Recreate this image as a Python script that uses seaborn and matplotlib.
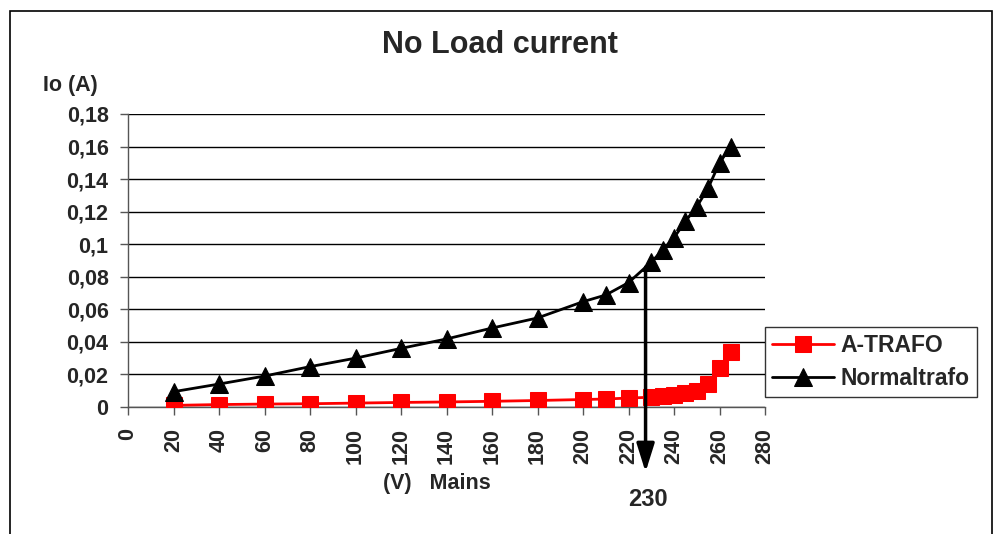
import matplotlib
matplotlib.use('Agg')
import matplotlib.pyplot as plt
import seaborn as sns
import pandas as pd
from matplotlib.ticker import FuncFormatter, MultipleLocator
from matplotlib.patches import Rectangle

# mains voltage (V) and no-load current (A)
volts = [20, 40, 60, 80, 100, 120, 140, 160, 180, 200, 210, 220,
         230, 235, 240, 245, 250, 255, 260, 265]
a_trafo = [0.0010, 0.0015, 0.0018, 0.0020, 0.0024, 0.0028, 0.0031, 0.0035,
           0.0040, 0.0046, 0.0049, 0.0055, 0.0060, 0.0066, 0.0074, 0.0084,
           0.0100, 0.0140, 0.0240, 0.0340]
normal_trafo = [0.0094, 0.0141, 0.0190, 0.0248, 0.0300, 0.0360, 0.0418, 0.0485,
                0.0547, 0.0647, 0.0688, 0.0764, 0.0890, 0.0964, 0.1040, 0.1140,
                0.1230, 0.1345, 0.1500, 0.1600]
series_names = ["A-TRAFO", "Normaltrafo"]
marked_volt = 230
arrow_x = 227.5
arrow_top = 0.086

df = pd.DataFrame({"V": volts, "A-TRAFO": a_trafo, "Normaltrafo": normal_trafo})

sns.set_theme(style="white")
plt.rcParams['font.family'] = ['Liberation Sans', 'DejaVu Sans']
plt.rcParams['font.weight'] = 'bold'

fig = plt.figure(figsize=(9.99, 5.34), dpi=100)
ax = fig.add_axes([128 / 999, 1 - 407 / 534, 637 / 999, 293 / 534])

sns.lineplot(data=df, x="V", y="A-TRAFO", ax=ax, color="#ff0000", lw=2,
             marker="s", markersize=12, markeredgecolor="#ff0000",
             label=series_names[0], zorder=3)
sns.lineplot(data=df, x="V", y="Normaltrafo", ax=ax, color="black", lw=2,
             marker="^", markersize=13.5, markeredgecolor="black",
             label=series_names[1], zorder=4)

ax.set_xlim(0, 280)
ax.set_ylim(0, 0.18)
ax.xaxis.set_major_locator(MultipleLocator(20))
ax.yaxis.set_major_locator(MultipleLocator(0.02))
ax.yaxis.set_major_formatter(FuncFormatter(lambda v, p: f"{round(v, 2):g}".replace(".", ",")))
ax.grid(axis="y", color="black", lw=1)
ax.set_axisbelow(True)
for s in ["top", "right"]:
    ax.spines[s].set_visible(False)
for s in ["left", "bottom"]:
    ax.spines[s].set_color("#555555")
    ax.spines[s].set_linewidth(1)
ax.tick_params(axis="both", direction="out", length=6, width=1, color="#555555",
               labelsize=15.5, left=True, bottom=True)
ax.tick_params(axis="y", pad=8)
ax.tick_params(axis="x", pad=9)
for lab in ax.get_xticklabels():
    lab.set_rotation(90)
    lab.set_fontweight("bold")
for lab in ax.get_yticklabels():
    lab.set_fontweight("bold")
ax.set_xlabel("")
ax.set_ylabel("")

# arrow marking nominal mains voltage
ax.annotate("", xy=(arrow_x, -0.222), xycoords=("data", "axes fraction"),
            xytext=(arrow_x, arrow_top), textcoords="data",
            arrowprops=dict(arrowstyle="-|>,head_length=0.86,head_width=0.27",
                            mutation_scale=20, lw=2.5, color="black",
                            shrinkA=0, shrinkB=0),
            annotation_clip=False, zorder=5)

leg = ax.legend(loc="upper left", bbox_to_anchor=(765 / 999, 1 - 327 / 534),
                bbox_transform=fig.transFigure, frameon=True, fancybox=False,
                prop={"size": 16.5, "weight": "bold"}, handlelength=2.7,
                borderpad=0.3, labelspacing=0.45, handletextpad=0.3,
                borderaxespad=0)
leg.get_frame().set_edgecolor("black")
leg.get_frame().set_linewidth(1)

fig.text(0.5, 1 - 45 / 534, "No Load current", ha="center", va="center",
         fontsize=22, fontweight="bold")
fig.text(43 / 999, 1 - 85 / 534, "Io (A)", ha="left", va="center",
         fontsize=15.5, fontweight="bold")
fig.text(437 / 999, 1 - 483 / 534, "(V)   Mains", ha="center", va="center",
         fontsize=15.5, fontweight="bold")
fig.text(648 / 999, 1 - 500 / 534, str(marked_volt), ha="center", va="center",
         fontsize=17, fontweight="bold")

# outer chart frame
fig.patches.append(Rectangle((10 / 999, -0.05), 982 / 999, 1.05 - 11 / 534,
                             transform=fig.transFigure, fill=False,
                             edgecolor="black", lw=1.2))

fig.savefig("out.png", dpi=100)
plt.close(fig)
